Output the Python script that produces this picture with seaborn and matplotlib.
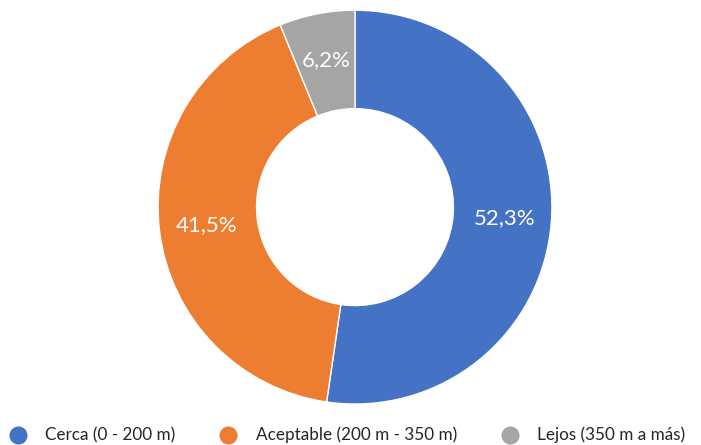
import matplotlib
matplotlib.use("Agg")
import matplotlib.pyplot as plt
import seaborn as sns
from matplotlib.lines import Line2D

# data
categories = ["Cerca (0 - 200 m)", "Aceptable (200 m - 350 m)", "Lejos (350 m a más)"]
values = [52.3, 41.5, 6.2]
colors = sns.color_palette(["#4472C4", "#ED7D31", "#A5A5A5"])

sns.set_theme(style="white")
plt.rcParams["font.family"] = ["Lato", "DejaVu Sans"]

fig = plt.figure(figsize=(7.01, 4.45), dpi=100)
ax = fig.add_axes([0.2254, 0.0921, 0.562, 0.885])

wedges, texts, autotexts = ax.pie(
    values, colors=colors, startangle=90, counterclock=False,
    wedgeprops=dict(width=0.5, edgecolor="white", linewidth=1),
    autopct=lambda p: f"{p:.1f}%".replace(".", ","), pctdistance=0.76,
    textprops=dict(color="white", fontsize=16),
)
ax.set_aspect("equal")
ax.set_xlim(-1, 1)
ax.set_ylim(-1, 1)

handles = [Line2D([0], [0], marker="o", color="w", markerfacecolor=c,
                  markersize=14) for c in colors]
fig.legend(handles, categories, loc="center", bbox_to_anchor=(0.494, 0.022),
           ncol=3, frameon=False, fontsize=12.3, handlelength=1.2,
           handletextpad=1.0, columnspacing=2.5)

fig.savefig("out.png", dpi=100)
